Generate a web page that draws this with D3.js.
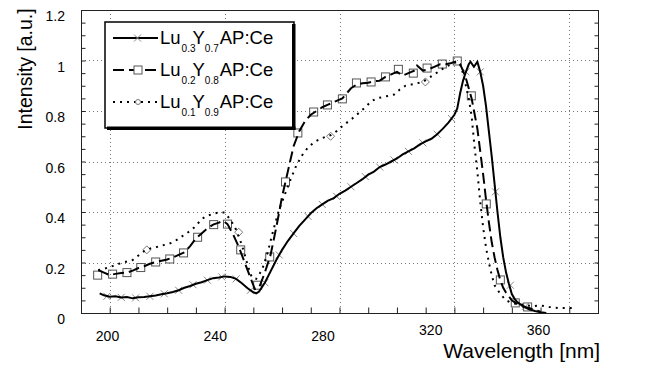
<!DOCTYPE html>
<html><head><meta charset="utf-8">
<script src="https://cdn.jsdelivr.net/npm/d3@7/dist/d3.min.js"></script>
<style>
body{margin:0;background:#fff}
text{font-family:"Liberation Sans",Arial,Helvetica,sans-serif;fill:#000}
</style>
</head><body>
<svg id="chart" width="645" height="376"></svg>
<script>
// ---------- data ----------
const seriesLabels = [
  ["Lu","0.3","Y","0.7","AP:Ce"],
  ["Lu","0.2","Y","0.8","AP:Ce"],
  ["Lu","0.1","Y","0.9","AP:Ce"]
];
const xTicks = [200, 240, 280, 320, 360];
const yTicks = [0, 0.2, 0.4, 0.6, 0.8, 1, 1.2];

// Lu0.3Y0.7AP:Ce (solid)
const wl1 = [196.5,198,200,202,204,206,208,210,212,214,216,218,220,222,224,226,228,230,232,234,236,238,240,242,244,246,248,250,251,252,254,256,258,260,262,264,266,268,270,272,274,276,278,280,282,284,286,288,290,292,294,296,298,300,302,304,306,308,310,312,314,316,318,320,321,322,323,324,325,325.6,326.8,328,329,330,331,332,333,334,335,336,337,338,339,340,341,342,344,346,348,350,352];
const int1 = [0.078,0.07,0.064,0.066,0.061,0.063,0.058,0.062,0.063,0.066,0.069,0.074,0.078,0.083,0.09,0.1,0.107,0.116,0.122,0.13,0.138,0.141,0.145,0.143,0.135,0.118,0.098,0.082,0.078,0.085,0.12,0.165,0.21,0.25,0.285,0.315,0.345,0.37,0.395,0.415,0.43,0.445,0.455,0.472,0.485,0.5,0.515,0.53,0.548,0.56,0.578,0.588,0.6,0.612,0.628,0.64,0.652,0.668,0.68,0.69,0.708,0.73,0.755,0.785,0.81,0.87,0.92,0.955,0.985,0.995,0.975,0.995,0.955,0.9,0.82,0.72,0.62,0.51,0.4,0.3,0.22,0.16,0.115,0.075,0.055,0.042,0.026,0.015,0.008,0.003,0.0];
const mk1W = [199,204,209,214,219,224,229,234,239,244,249,254,259,264,269,274,279,284,289,294,299,304,309,314,319,324,329,334.3,339.5,344.7];
const mk1V = [0.066,0.062,0.06,0.066,0.076,0.09,0.112,0.13,0.143,0.135,0.09,0.12,0.23,0.315,0.383,0.43,0.462,0.5,0.54,0.578,0.606,0.64,0.674,0.708,0.77,0.955,0.955,0.48,0.11,0.026];

// Lu0.2Y0.8AP:Ce (dashed)
const wl2 = [196,198,200,202,204,206,208,210,212,214,216,218,220,222,224,226,228,230,232,234,236,238,239.5,241,243,245,247,249,250.5,252,254,256,258,260,262,264,266,268,270,272,274,276,278,280,281,284,286,288,290,292,294,296,298,300,302,304,306,307,309,311,313,315,317,319,321,322,323,324,325,326,327,328,329,330,331,332,333,334,335,336,337,338,340,342,344,346,348,350];
const int2 = [0.17,0.16,0.15,0.155,0.158,0.16,0.168,0.178,0.185,0.195,0.202,0.207,0.212,0.22,0.23,0.24,0.265,0.295,0.315,0.335,0.35,0.358,0.365,0.352,0.31,0.26,0.2,0.14,0.095,0.1,0.16,0.23,0.34,0.46,0.56,0.66,0.72,0.76,0.785,0.8,0.815,0.825,0.835,0.845,0.85,0.89,0.905,0.91,0.912,0.918,0.92,0.935,0.945,0.955,0.94,0.95,0.96,0.98,0.96,0.965,0.975,0.985,0.985,0.99,0.998,0.985,0.96,0.93,0.89,0.85,0.79,0.73,0.64,0.55,0.45,0.36,0.28,0.22,0.17,0.13,0.1,0.08,0.05,0.035,0.025,0.02,0.012,0.005];
const mk2W = [195.8,201,206,210.8,216,220.9,225.7,230.6,236.2,241,245.6,251.5,255.7,261.2,265.5,271,275.8,281,285.9,291,296,300.5,305.7,310.5,315.8,321,325.9,331.1,336,341.2,345.5];
const mk2V = [0.15,0.154,0.16,0.18,0.202,0.214,0.238,0.3,0.35,0.352,0.25,0.11,0.222,0.519,0.713,0.796,0.824,0.848,0.911,0.915,0.935,0.965,0.95,0.97,0.986,0.998,0.86,0.432,0.131,0.04,0.024];

// Lu0.1Y0.9AP:Ce (dotted)
const wl3 = [196,198,200,202,204,206,208,210,212,214,216,218,220,222,224,226,228,230,232,234,236,238,240,242,244,246,248,249.5,251,253,255,257,259,261,263,265,267,269,271,273,275,277,279,281,283,285,287,289,291,293,295,297,299,301,303,305,307,309,311,313,315,317,319,321,322,323,324,325,326,327,328,329,330,331,332,333,334,336,338,340,342,345,348,350,353,356,359,362];
const int3 = [0.17,0.175,0.182,0.19,0.198,0.204,0.21,0.228,0.245,0.255,0.26,0.267,0.272,0.28,0.294,0.31,0.325,0.345,0.372,0.385,0.393,0.398,0.398,0.37,0.33,0.27,0.19,0.14,0.135,0.17,0.24,0.33,0.41,0.47,0.53,0.585,0.625,0.655,0.675,0.688,0.697,0.705,0.72,0.74,0.758,0.775,0.795,0.815,0.838,0.85,0.855,0.86,0.865,0.885,0.9,0.905,0.91,0.915,0.93,0.945,0.96,0.975,0.985,0.995,0.985,0.95,0.9,0.85,0.78,0.66,0.56,0.44,0.34,0.26,0.2,0.15,0.11,0.075,0.05,0.04,0.035,0.03,0.028,0.03,0.024,0.02,0.02,0.02];
const mk3W = [212.9,244.9,276.9,309.9];
const mk3V = [0.25,0.32,0.70,0.915];

// ---------- chart ----------
const svg = d3.select("#chart");
const L = 81, R = 598, T = 10, B = 313;
const x = d3.scaleLinear().domain([190, 370]).range([L, R]);
const y = d3.scaleLinear().domain([0, 1.2]).range([B, T]);
// tick labels in the scan sit slightly left of their gridlines
const xLab = d3.scaleLinear().domain([200, 360]).range([107, 538]);

// grid
const grid = svg.append("g").attr("stroke", "#777").attr("stroke-width", 1).attr("stroke-dasharray", "1,3");
grid.selectAll("line.v").data(xTicks).join("line")
  .attr("x1", d => Math.round(x(d)) + 0.5).attr("x2", d => Math.round(x(d)) + 0.5)
  .attr("y1", T).attr("y2", B);
grid.selectAll("line.h").data(yTicks.filter(d => d > 0 && d < 1.2)).join("line")
  .attr("y1", d => Math.round(y(d)) + 0.5).attr("y2", d => Math.round(y(d)) + 0.5)
  .attr("x1", L).attr("x2", R);

// frame
svg.append("rect").attr("x", L + 0.5).attr("y", T + 0.5).attr("width", R - L).attr("height", B - T)
  .attr("fill", "none").attr("stroke", "#222").attr("stroke-width", 1);

// minor ticks (inside)
const yMinor = d3.range(0, 1.2001, 0.05);
const xMinor = d3.range(190, 370.01, 10);
svg.append("g").attr("transform", `translate(${L + 0.5},0)`)
  .call(d3.axisRight(y).tickValues(yMinor).tickSize(4).tickFormat(""))
  .call(g => g.select(".domain").remove()).selectAll("line").attr("stroke", "#222");
svg.append("g").attr("transform", `translate(${R + 0.5},0)`)
  .call(d3.axisLeft(y).tickValues(yMinor).tickSize(4).tickFormat(""))
  .call(g => g.select(".domain").remove()).selectAll("line").attr("stroke", "#222");
svg.append("g").attr("transform", `translate(0,${B + 0.5})`)
  .call(d3.axisTop(x).tickValues(xMinor).tickSize(6).tickFormat(""))
  .call(g => g.select(".domain").remove()).selectAll("line").attr("stroke", "#222");

// tick labels
svg.append("g").attr("transform", `translate(${L},0)`)
  .call(d3.axisLeft(y).tickValues(yTicks).tickSize(0).tickPadding(16).tickFormat(d => d3.format("")(+d.toFixed(1))))
  .call(g => g.select(".domain").remove())
  .selectAll("text").attr("dy", "0.78em").style("font-size", "14px").attr("font-family", null);
svg.append("g").attr("transform", `translate(0,${B})`)
  .call(d3.axisBottom(xLab).tickValues(xTicks).tickSize(0).tickPadding(18))
  .call(g => g.select(".domain").remove())
  .selectAll("text").attr("dy", d => d >= 320 ? "0.25em" : "0.71em").style("font-size", "14px").attr("font-family", null);

// axis titles
svg.append("text").attr("transform", "translate(32,69) rotate(-90)").attr("text-anchor", "middle")
  .style("font-size", "19.5px").text("Intensity [a.u.]");
svg.append("text").attr("x", 600).attr("y", 358).attr("text-anchor", "end")
  .style("font-size", "21px").text("Wavelength [nm]");

// lines
svg.append("clipPath").attr("id", "pc").append("rect").attr("x", L).attr("y", T).attr("width", R - L).attr("height", B - T);
const line = d3.line().x(d => x(d[0])).y(d => y(d[1]));
const plot = svg.append("g").attr("clip-path", "url(#pc)");
const s1 = d3.zip(wl1, int1), s2 = d3.zip(wl2, int2), s3 = d3.zip(wl3, int3);
const m1 = d3.zip(mk1W, mk1V), m2 = d3.zip(mk2W, mk2V), m3 = d3.zip(mk3W, mk3V);

// markers
plot.selectAll("path.x").data(m1).join("path")
  .attr("d", d => { const cx = x(d[0]), cy = y(d[1]), r = 3.5; return `M${cx-r},${cy-r}L${cx+r},${cy+r}M${cx-r},${cy+r}L${cx+r},${cy-r}`; })
  .attr("stroke", "#888").attr("stroke-width", 1).attr("fill", "none");
plot.selectAll("rect.sq").data(m2).join("rect")
  .attr("x", d => x(d[0]) - 4).attr("y", d => y(d[1]) - 4).attr("width", 8).attr("height", 8)
  .attr("stroke", "#555").attr("stroke-width", 1).attr("fill", "none");
plot.selectAll("path.dm").data(m3).join("path")
  .attr("d", d => { const cx = x(d[0]), cy = y(d[1]), r = 4; return `M${cx},${cy-r}L${cx+r},${cy}L${cx},${cy+r}L${cx-r},${cy}Z`; })
  .attr("stroke", "#777").attr("stroke-width", 1).attr("fill", "none");

plot.append("path").datum(s3).attr("d", line).attr("fill", "none").attr("stroke", "#000")
  .attr("stroke-width", 2).attr("stroke-dasharray", "2,5");
plot.append("path").datum(s2).attr("d", line).attr("fill", "none").attr("stroke", "#000")
  .attr("stroke-width", 2).attr("stroke-dasharray", "11,5");
plot.append("path").datum(s1).attr("d", line).attr("fill", "none").attr("stroke", "#000")
  .attr("stroke-width", 2);

// legend
const lg = svg.append("g");
lg.append("rect").attr("x", 105).attr("y", 22).attr("width", 189).attr("height", 106).attr("fill", "#fff").attr("stroke", "#000").attr("stroke-width", 1.5);
lg.append("rect").attr("x", 292).attr("y", 24).attr("width", 3.5).attr("height", 106).attr("fill", "#000");
lg.append("rect").attr("x", 107).attr("y", 126.5).attr("width", 188.5).attr("height", 3.5).attr("fill", "#000");
const rowsY = [38, 70, 102];
const styles = [null, "11,5", "2,5"];
rowsY.forEach((ry, i) => {
  const ln = lg.append("line").attr("x1", 113).attr("x2", 158).attr("y1", ry).attr("y2", ry)
    .attr("stroke", "#000").attr("stroke-width", 2);
  if (styles[i]) ln.attr("stroke-dasharray", styles[i]);
  if (i === 0) lg.append("path").attr("d", `M134,${ry-3.5}L141,${ry+3.5}M134,${ry+3.5}L141,${ry-3.5}`).attr("stroke", "#888").attr("fill", "none");
  if (i === 1) lg.append("rect").attr("x", 134).attr("y", ry - 4).attr("width", 8).attr("height", 8).attr("fill", "#fff").attr("stroke", "#555");
  if (i === 2) lg.append("circle").attr("cx", 138).attr("cy", ry).attr("r", 2.5).attr("fill", "#fff").attr("stroke", "#777");
  const parts = seriesLabels[i];
  const t = lg.append("text").attr("x", 160).attr("y", ry + 5.5).style("font-size", "18.5px");
  t.append("tspan").text(parts[0]);
  t.append("tspan").attr("dy", 8).attr("dx", 1).style("font-size", "10px").text(parts[1]);
  t.append("tspan").attr("dy", -8).attr("dx", -3).text(parts[2]);
  t.append("tspan").attr("dy", 8).attr("dx", 0).style("font-size", "10px").text(parts[3]);
  t.append("tspan").attr("dy", -8).attr("dx", 1).text(parts[4]);
});
</script>
</body></html>
